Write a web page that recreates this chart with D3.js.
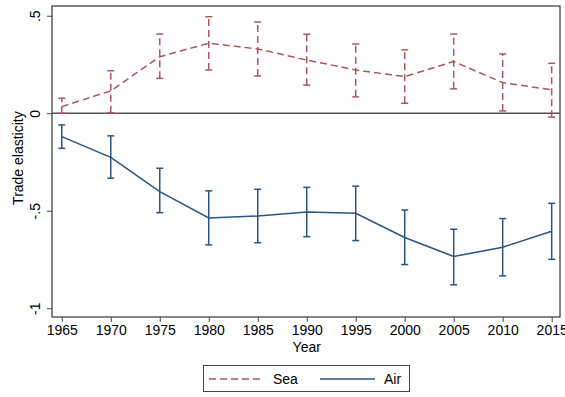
<!DOCTYPE html>
<html lang="en">
  <head>
    <meta charset="UTF-8" />
    <title>Trade elasticity - Sea vs Air</title>
    <style>
      body {
        margin: 0;
        background: #fff;
      }
      text {
        font-family: "Liberation Sans", Arial, Helvetica, sans-serif;
      }
    </style>
  </head>
  <body>
    <div id="chart"></div>

    <script src="https://cdn.jsdelivr.net/npm/d3@7"></script>

    <script>
      //////////////////////////////// Data ////////////////////////////////
      var years = [1965, 1970, 1975, 1980, 1985, 1990, 1995, 2000, 2005, 2010, 2015];

      var seaEst = [0.034, 0.115, 0.29, 0.359, 0.33, 0.273, 0.222, 0.188, 0.265, 0.157, 0.12];
      var seaHi = [0.077, 0.218, 0.406, 0.495, 0.468, 0.405, 0.355, 0.325, 0.406, 0.304, 0.256];
      var seaLo = [0.0, 0.003, 0.179, 0.222, 0.191, 0.144, 0.084, 0.051, 0.125, 0.012, -0.02];

      var airEst = [-0.12, -0.226, -0.402, -0.537, -0.527, -0.506, -0.513, -0.637, -0.735, -0.687, -0.605];
      var airHi = [-0.06, -0.116, -0.282, -0.398, -0.39, -0.38, -0.374, -0.496, -0.595, -0.54, -0.462];
      var airLo = [-0.18, -0.333, -0.51, -0.675, -0.664, -0.633, -0.653, -0.776, -0.88, -0.834, -0.749];

      var yTicks = [0.5, 0, -0.5, -1];
      var yTickLabels = [".5", "0", "-.5", "-1"];

      var seaColor = "#ad565e",
        airColor = "#2a5580";

      //////////////////////////////// Setup ////////////////////////////////
      var width = 565,
        height = 397;
      var plot = { left: 52, top: 6, right: 560, bottom: 317 };
      var fontSize = "14px";

      var svg = d3
        .select("#chart")
        .append("svg")
        .attr("width", width)
        .attr("height", height);

      var x = d3.scaleLinear().domain([1964.0, 2015.85]).range([plot.left, plot.right]);
      var y = d3.scaleLinear().domain([-1.045, 0.55]).range([plot.bottom, plot.top]);

      //plot frame
      svg
        .append("rect")
        .attr("x", plot.left)
        .attr("y", plot.top)
        .attr("width", plot.right - plot.left)
        .attr("height", plot.bottom - plot.top)
        .style("fill", "#fff")
        .style("stroke", "#444")
        .style("stroke-width", 1.3);

      //zero line
      svg
        .append("line")
        .attr("x1", plot.left)
        .attr("x2", plot.right)
        .attr("y1", y(0))
        .attr("y2", y(0))
        .style("stroke", "#555")
        .style("stroke-width", 1.6);

      //////////////////////////////// Axes ////////////////////////////////
      var yAxis = d3
        .axisLeft(y)
        .tickValues(yTicks)
        .tickSize(5)
        .tickPadding(4)
        .tickFormat(function(d, i) {
          return yTickLabels[i];
        });
      var gy = svg
        .append("g")
        .attr("transform", "translate(" + plot.left + ",0)")
        .call(yAxis);
      gy.select(".domain").remove();
      gy.selectAll(".tick line").style("stroke", "#444");
      gy.selectAll(".tick text")
        .attr("x", null)
        .attr("dy", null)
        .attr("text-anchor", "middle")
        .attr("transform", "translate(-12,0) rotate(-90)")
        .style("font-size", fontSize)
        .style("fill", "#000");

      var xAxis = d3
        .axisBottom(x)
        .tickValues(years)
        .tickSize(5)
        .tickPadding(3)
        .tickFormat(d3.format("d"));
      var gx = svg
        .append("g")
        .attr("transform", "translate(0," + plot.bottom + ")")
        .call(xAxis);
      gx.select(".domain").remove();
      gx.selectAll(".tick line").style("stroke", "#444");
      gx.selectAll(".tick text")
        .style("font-size", fontSize)
        .style("fill", "#000");

      //axis titles
      svg
        .append("text")
        .attr("x", (x(1965) + x(2015)) / 2)
        .attr("y", 352)
        .attr("text-anchor", "middle")
        .style("font-size", fontSize)
        .text("Year");

      svg
        .append("text")
        .attr("transform", "translate(23," + y(-0.23) + ") rotate(-90)")
        .attr("text-anchor", "middle")
        .style("font-size", fontSize)
        .text("Trade elasticity");

      //////////////////////////////// Series ////////////////////////////////
      function drawSeries(est, lo, hi, color, dash) {
        var g = svg.append("g");
        var cap = 3.5;

        years.forEach(function(yr, i) {
          var cx = x(yr);
          g.append("line")
            .attr("x1", cx)
            .attr("x2", cx)
            .attr("y1", y(lo[i]))
            .attr("y2", y(hi[i]))
            .style("stroke", color)
            .style("stroke-width", 1.5)
            .style("stroke-dasharray", dash);
          [lo[i], hi[i]].forEach(function(v) {
            g.append("line")
              .attr("x1", cx - cap)
              .attr("x2", cx + cap)
              .attr("y1", y(v))
              .attr("y2", y(v))
              .style("stroke", color)
              .style("stroke-width", 1.5);
          });
        });

        var line = d3
          .line()
          .x(function(d, i) {
            return x(years[i]);
          })
          .y(function(d) {
            return y(d);
          });

        g.append("path")
          .attr("d", line(est))
          .style("fill", "none")
          .style("stroke", color)
          .style("stroke-width", 1.5)
          .style("stroke-dasharray", dash);
      }

      drawSeries(seaEst, seaLo, seaHi, seaColor, "7,4");
      drawSeries(airEst, airLo, airHi, airColor, null);

      //////////////////////////////// Legend ////////////////////////////////
      var legend = svg.append("g");
      legend
        .append("rect")
        .attr("x", 203.5)
        .attr("y", 365.5)
        .attr("width", 206)
        .attr("height", 26)
        .style("fill", "#fff")
        .style("stroke", "#444")
        .style("stroke-width", 1);

      var legendItems = [
        { name: "Sea", color: seaColor, dash: "7,4", x: 209 },
        { name: "Air", color: airColor, dash: null, x: 320 }
      ];
      legendItems.forEach(function(d) {
        legend
          .append("line")
          .attr("x1", d.x)
          .attr("x2", d.x + 55)
          .attr("y1", 379)
          .attr("y2", 379)
          .style("stroke", d.color)
          .style("stroke-width", 1.5)
          .style("stroke-dasharray", d.dash);
        legend
          .append("text")
          .attr("x", d.x + 64)
          .attr("y", 384)
          .style("font-size", fontSize)
          .text(d.name);
      });
    </script>
  </body>
</html>
